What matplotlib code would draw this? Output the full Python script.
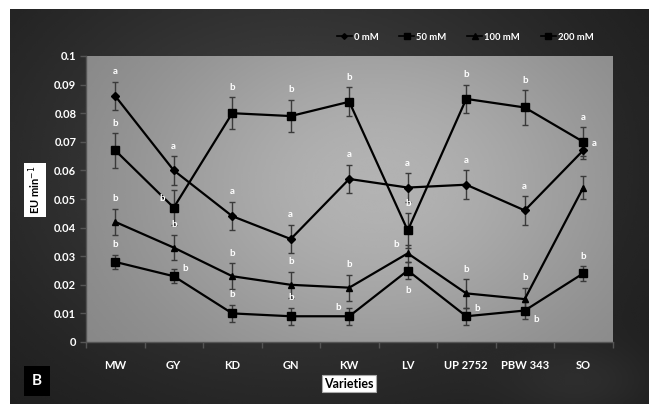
import numpy as np
import matplotlib
matplotlib.use("Agg")
import matplotlib.pyplot as plt

# ---------------- data ----------------
varieties = ["MW", "GY", "KD", "GN", "KW", "LV", "UP 2752", "PBW 343", "SO"]
series_names = ["0 mM", "50 mM", "100 mM", "200 mM"]

eu_0 = [0.086, 0.060, 0.044, 0.036, 0.057, 0.054, 0.055, 0.046, 0.067]
eu_50 = [0.067, 0.047, 0.080, 0.079, 0.084, 0.039, 0.085, 0.082, 0.070]
eu_100 = [0.042, 0.033, 0.023, 0.020, 0.019, 0.031, 0.017, 0.015, 0.054]
eu_200 = [0.028, 0.023, 0.010, 0.009, 0.009, 0.025, 0.009, 0.011, 0.024]

err_0 = [0.005, 0.005, 0.005, 0.005, 0.005, 0.005, 0.005, 0.005, 0.003]
err_50 = [0.006, 0.006, 0.0056, 0.0056, 0.005, 0.006, 0.005, 0.006, 0.005]
err_100 = [0.0045, 0.0045, 0.0045, 0.0045, 0.0045, 0.003, 0.005, 0.004, 0.004]
err_200 = [0.0025, 0.0025, 0.003, 0.003, 0.003, 0.003, 0.003, 0.003, 0.0025]

letters_0 = ["a", "a", "a", "a", "a", "a", "a", "a", "a"]
letters_50 = ["b", "b", "b", "b", "b", "b", "b", "b", "a"]
letters_100 = ["b", "b", "b", "b", "b", "b", "b", "b", ""]
letters_200 = ["b", "b", "b", "b", "b", "b", "b", "b", "b"]

y_ticks = [0, 0.01, 0.02, 0.03, 0.04, 0.05, 0.06, 0.07, 0.08, 0.09, 0.1]
y_tick_labels = ["0", "0.01", "0.02", "0.03", "0.04", "0.05", "0.06", "0.07", "0.08", "0.09", "0.1"]

# ---------------- style ----------------
FONT = "Lato"
W, H = 649, 404
fig = plt.figure(figsize=(W / 100, H / 100), dpi=100)
fig.patch.set_facecolor("white")

# outer dark frame with gradient
bg = fig.add_axes([10 / W, 0, (W - 10) / W, (H - 9) / H])
bg.set_axis_off()
gx, gy = np.meshgrid(np.linspace(0, 1, 300), np.linspace(0, 1, 200))
v = 0.10 + 0.15 * np.exp(-(((gx - 0.45) / 0.5) ** 2 + ((gy - 0.4) / 0.6) ** 2))
v += 0.05 * np.exp(-(((gx - 0.9) / 0.12) ** 2 + ((gy - 0.95) / 0.1) ** 2))
bg.imshow(np.clip(v, 0, 1), cmap="gray", vmin=0, vmax=1, aspect="auto",
          extent=[0, 1, 1, 0], interpolation="bicubic")
bg.set_xlim(0, 1)
bg.set_ylim(1, 0)

left, right = 86 / W, 612.5 / W
bottom, top = 1 - 342 / H, 1 - 56 / H
ax = fig.add_axes([left, bottom, right - left, top - bottom])
ax.set_facecolor("none")

x = np.arange(len(varieties))
ax.set_xlim(-0.5, len(varieties) - 0.5)
ax.set_ylim(0, 0.1)

# plot-area gradient
px, py = np.meshgrid(np.linspace(0, 1, 300), np.linspace(0, 1, 200))
pv = 0.50 + 0.20 * np.exp(-(((px - 0.55) / 0.5) ** 2 + ((py - 0.55) / 0.7) ** 2))
ax.imshow(pv, cmap="gray", vmin=0, vmax=1, aspect="auto",
          extent=[-0.5, len(varieties) - 0.5, 0, 0.1], origin="lower",
          interpolation="bicubic", zorder=0)

series = [
    (eu_0, err_0, letters_0, "D", 3.6),
    (eu_50, err_50, letters_50, "s", 6.0),
    (eu_100, err_100, letters_100, "^", 5.0),
    (eu_200, err_200, letters_200, "s", 5.2),
]

handles = []
for (vals, errs, _, mk, ms), name in zip(series, series_names):
    ax.errorbar(x, vals, yerr=errs, fmt="none", ecolor="#3a3a3a", elinewidth=1.0,
                capsize=2.5, capthick=1.0, zorder=2)
    h, = ax.plot(x, vals, color="black", lw=1.6, marker=mk, ms=ms,
                 markerfacecolor="black", markeredgecolor="black", zorder=3)
    handles.append(h)

# letter placements (offsets in points)
place = {
    "above": (0, 4, "center", "bottom"),
    "left": (-6, 3, "right", "bottom"),
    "right": (6, 2, "left", "bottom"),
    "below": (0, -5, "center", "top"),
    "belowright": (6, -3, "left", "top"),
}
placement_0 = ["above"] * 8 + ["right"]
placement_50 = ["above", "left", "above", "above", "above", "above", "above", "above", "above"]
placement_100 = ["above"] * 5 + ["left"] + ["above"] * 3
placement_200 = ["above", "right", "above", "above", "left", "below", "right", "belowright", "above"]
placements = [placement_0, placement_50, placement_100, placement_200]

for (vals, errs, lets, _, _), plc in zip(series, placements):
    for i, (vv, ee, lt, p) in enumerate(zip(vals, errs, lets, plc)):
        if not lt:
            continue
        dx, dy, ha, va = place[p]
        if p == "above":
            yy = vv + ee
        elif p == "below":
            yy = vv - ee
        else:
            yy = vv
        ax.annotate(lt, (i, yy), xytext=(dx, dy), textcoords="offset points",
                    ha=ha, va=va, color="white", fontsize=7, fontweight="bold",
                    family=FONT, zorder=4)

# axes styling
for s in ["top", "right"]:
    ax.spines[s].set_visible(False)
for s in ["left", "bottom"]:
    ax.spines[s].set_color("#555555")
    ax.spines[s].set_linewidth(1.0)

ax.set_yticks(y_ticks)
ax.set_yticklabels(y_tick_labels)
ax.set_xticks(x)
ax.set_xticklabels(varieties)
ax.set_xticks(np.arange(-0.5, len(varieties) + 0.5, 1), minor=True)
ax.tick_params(axis="x", which="major", length=0, pad=13)
ax.tick_params(axis="x", which="minor", length=4, color="#555555", width=1)
ax.tick_params(axis="y", length=4, color="#555555", width=1, pad=3)
for lab in ax.get_xticklabels() + ax.get_yticklabels():
    lab.set_color("white")
    lab.set_fontsize(8)
    lab.set_fontweight("bold")
    lab.set_family(FONT)

# legend
leg = fig.legend(handles, series_names, loc="center", bbox_to_anchor=(465 / W, 1 - 37 / H),
                 ncol=4, frameon=False, handlelength=1.6, handletextpad=0.2,
                 columnspacing=2.2, markerscale=0.8,
                 prop={"family": FONT, "weight": "bold", "size": 6.8})
for t in leg.get_texts():
    t.set_color("white")
for lh in leg.legend_handles:
    lh.set_linewidth(1.2)

# axis titles in boxes
fig.text(35 / W, 1 - 190 / H, "EU min$^{-1}$", rotation=90, ha="center", va="center",
         fontsize=8, fontweight="bold", family=FONT, color="black",
         bbox=dict(boxstyle="square,pad=0.25", facecolor="white", edgecolor="none"))
fig.text(349 / W, 1 - 383.5 / H, "Varieties", ha="center", va="center",
         fontsize=9, fontweight="bold", family=FONT, color="black",
         bbox=dict(boxstyle="square,pad=0.2", facecolor="white", edgecolor="#aaaaaa", linewidth=0.8))
fig.text(37 / W, 1 - 381 / H, "B", ha="center", va="center",
         fontsize=11, fontweight="bold", family=FONT, color="white",
         bbox=dict(boxstyle="square,pad=0.55", facecolor="black", edgecolor="none"))

fig.savefig("out.png", dpi=100, facecolor=fig.get_facecolor())
